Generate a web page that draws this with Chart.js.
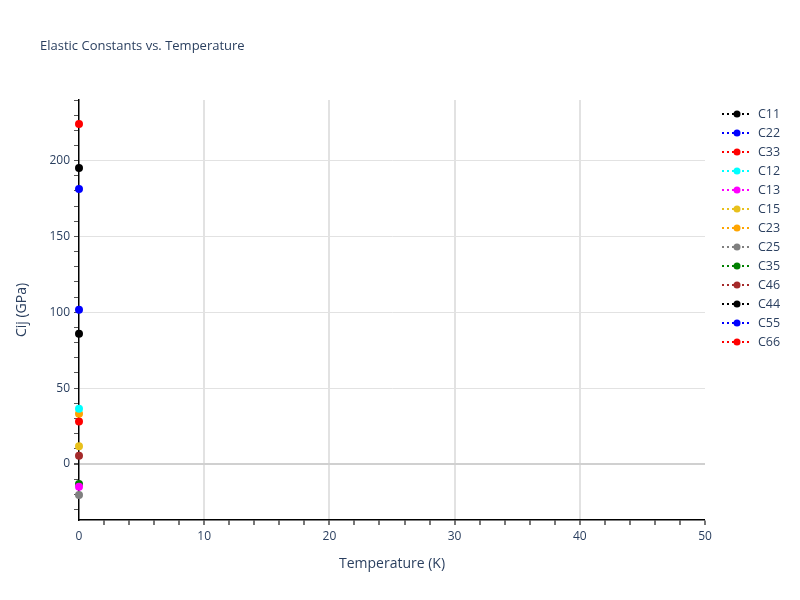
<!DOCTYPE html>
<html>
<head>
<meta charset="utf-8">
<script src="https://cdn.jsdelivr.net/npm/chart.js@4.4.1/dist/chart.umd.min.js"></script>
<style>
  html, body { margin: 0; padding: 0; background: #fff; }
  #wrap { width: 800px; height: 600px; }
</style>
</head>
<body>
<div id="wrap"><canvas id="myChart"></canvas></div>
<script>
const temperature = [0];
const seriesNames = ['C11', 'C22', 'C33', 'C12', 'C13', 'C15', 'C23', 'C25', 'C35', 'C46', 'C44', 'C55', 'C66'];
const seriesColors = ['black', 'blue', 'red', 'cyan', 'magenta', '#e8c01c', 'orange', 'gray', 'green', 'brown', 'black', 'blue', 'red'];

const c11 = [195.2];
const c22 = [181.3];
const c33 = [224.2];
const c12 = [36.3];
const c13 = [-15.0];
const c15 = [11.7];
const c23 = [33.0];
const c25 = [-20.5];
const c35 = [-13.2];
const c46 = [5.3];
const c44 = [85.8];
const c55 = [101.6];
const c66 = [27.9];
const seriesValues = [c11, c22, c33, c12, c13, c15, c23, c25, c35, c46, c44, c55, c66];

const xTicks = [0, 10, 20, 30, 40, 50];
const yTicks = [0, 50, 100, 150, 200];

const fontColor = '#2a3f5f';
const fontFamily = '"Open Sans", "Noto Sans", sans-serif';

const datasets = seriesNames.map((name, i) => ({
  label: name,
  data: temperature.map((t, j) => ({ x: t, y: seriesValues[i][j] })),
  borderColor: seriesColors[i],
  backgroundColor: seriesColors[i],
  borderWidth: 2,
  borderDash: [2, 3],
  showLine: true,
  pointRadius: 3,
  pointHoverRadius: 4,
  clip: false,
}));

// plotly-like title and legend
const extras = {
  id: 'extras',
  afterDraw(chart) {
    const ctx = chart.ctx;
    ctx.save();
    ctx.fillStyle = fontColor;
    ctx.font = '13px ' + fontFamily;
    ctx.textBaseline = 'middle';
    ctx.textAlign = 'left';
    ctx.fillText('Elastic Constants vs. Temperature', 40, 46);

    chart.data.datasets.forEach((ds, i) => {
      const y = 114 + i * 19;
      ctx.strokeStyle = ds.borderColor;
      ctx.lineWidth = 2;
      ctx.setLineDash([2, 3]);
      ctx.beginPath();
      ctx.moveTo(722, y);
      ctx.lineTo(752, y);
      ctx.stroke();
      ctx.setLineDash([]);
      ctx.fillStyle = ds.backgroundColor;
      ctx.beginPath();
      ctx.arc(737, y, 3.5, 0, Math.PI * 2);
      ctx.fill();
      ctx.fillStyle = fontColor;
      ctx.font = '12.5px ' + fontFamily;
      ctx.fillText(ds.label, 758, y);
    });
    ctx.restore();
  },
};

const minorTicks = (min, max, step) => {
  const out = [];
  for (let v = Math.ceil(min / step) * step; v <= max; v += step) out.push({ value: v });
  return out;
};

new Chart(document.getElementById('myChart'), {
  type: 'scatter',
  data: { datasets },
  plugins: [extras],
  options: {
    responsive: true,
    maintainAspectRatio: false,
    animation: false,
    layout: { padding: { top: 100, right: 95, left: 10, bottom: 24 } },
    plugins: {
      legend: { display: false },
      title: { display: false },
      tooltip: { enabled: false },
    },
    scales: {
      x: {
        type: 'linear',
        min: 0,
        max: 50,
        afterBuildTicks: (scale) => { scale.ticks = minorTicks(0, 50, 2); },
        afterFit: (scale) => { scale.height = 56; },
        border: { display: true, color: '#000', width: 1.5 },
        grid: {
          color: (c) => (xTicks.includes(c.tick.value) && c.tick.value > 0 && c.tick.value < 50 ? '#e2e2e2' : 'rgba(0,0,0,0)'),
          lineWidth: (c) => (c.tick.value === 0 ? 0 : 2),
          tickColor: '#777',
          tickLength: 5,
        },
        ticks: {
          color: fontColor,
          font: { size: 12, family: fontFamily },
          padding: 4,
          maxRotation: 0,
          autoSkip: false,
          callback: (v) => (xTicks.includes(v) ? String(v) : ''),
        },
        title: {
          display: true,
          text: 'Temperature (K)',
          color: fontColor,
          font: { size: 14, family: fontFamily },
          padding: { top: 0 },
        },
      },
      y: {
        type: 'linear',
        min: -37,
        max: 240,
        afterBuildTicks: (scale) => { scale.ticks = minorTicks(-37, 240, 10); },
        afterFit: (scale) => { scale.width = 69; },
        border: { display: true, color: '#000', width: 1.5 },
        grid: {
          color: (c) => (c.tick.value === 0 ? '#d0d0d0' : yTicks.includes(c.tick.value) ? '#e2e2e2' : 'rgba(0,0,0,0)'),
          lineWidth: (c) => (c.tick.value === 0 ? 2 : 1),
          tickColor: '#555',
          tickLength: 5,
        },
        ticks: {
          color: fontColor,
          font: { size: 12, family: fontFamily },
          padding: 4,
          autoSkip: false,
          callback: (v) => (yTicks.includes(v) ? String(v) : ''),
        },
        title: {
          display: true,
          text: 'Cij (GPa)',
          color: fontColor,
          font: { size: 14, family: fontFamily },
          padding: { bottom: 6 },
        },
      },
    },
  },
});
</script>
</body>
</html>
